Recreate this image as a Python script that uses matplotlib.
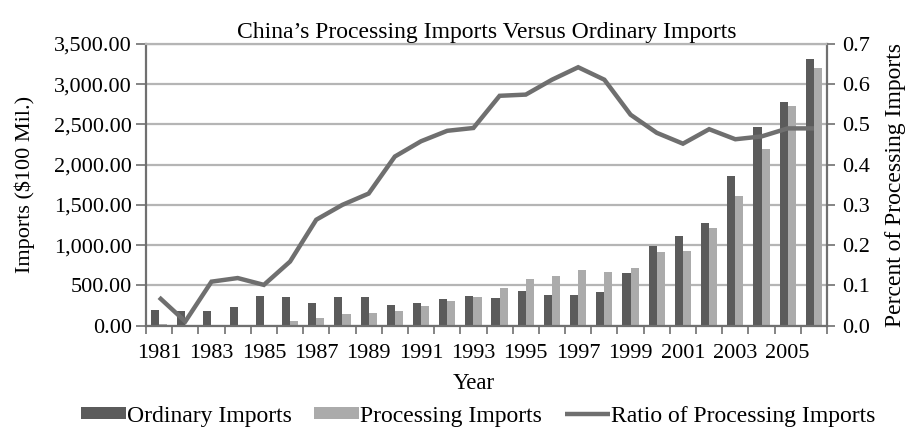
import numpy as np
import matplotlib
matplotlib.use("Agg")
import matplotlib.pyplot as plt
from matplotlib.ticker import FuncFormatter, MultipleLocator

# Data
years = list(range(1981, 2007))
ordinary = [195, 183, 185, 229, 370, 350, 280, 350, 350, 257,
            286, 328, 370, 348, 423, 382, 382, 420, 656, 990,
            1117, 1276, 1862, 2469, 2777, 3317]
processing = [15, 10, 8, 10, 5, 50, 90, 140, 160, 182,
              245, 307, 353, 465, 577, 610, 685, 670, 720, 910,
              923, 1206, 1608, 2195, 2731, 3201]
ratio = [0.070, 0.010, 0.109, 0.118, 0.101, 0.159, 0.263, 0.300, 0.328, 0.420,
         0.458, 0.484, 0.491, 0.571, 0.574, 0.611, 0.642, 0.611, 0.524, 0.479,
         0.452, 0.488, 0.463, 0.470, 0.490, 0.490]

plt.rcParams["font.family"] = ["Liberation Serif", "DejaVu Serif"]
plt.rcParams["font.size"] = 16

dark = "#5b5b5b"
light = "#ababab"
line_c = "#6f6f6f"
axis_c = "#707070"
grid_c = "#b5b5b5"

fig = plt.figure(figsize=(9.08, 4.4), dpi=100)
ax = fig.add_axes([0.1608, 0.2602, 0.75, 0.64])

x = np.arange(len(years))
w = 0.31
ax.bar(x - w / 2, ordinary, w, color=dark, label="Ordinary Imports", zorder=2)
ax.bar(x + w / 2, processing, w, color=light, label="Processing Imports", zorder=2)

ax.set_ylim(0, 3500)
ax.set_xlim(-0.5, len(years) - 0.5)
ax.yaxis.set_major_locator(MultipleLocator(500))
ax.yaxis.set_major_formatter(FuncFormatter(lambda v, p: f"{v:,.2f}"))
ax.grid(axis="y", color=grid_c, linewidth=1.6, zorder=0)
ax.set_axisbelow(True)

# tick marks on category boundaries, labels at centres of every other year
ax.set_xticks(np.arange(-0.5, len(years), 1.0))
ax.set_xticklabels([])
ax.set_xticks(x[::2], minor=True)
ax.set_xticklabels([str(y) for y in years[::2]], minor=True)
ax.tick_params(axis="x", which="minor", length=0, pad=13)
ax.tick_params(axis="x", which="major", length=6, width=1.2, color=axis_c)
ax.tick_params(axis="y", length=7, width=1.2, color=axis_c, pad=3)

for s in ["left", "bottom", "right"]:
    ax.spines[s].set_color(axis_c)
    ax.spines[s].set_linewidth(1.6)
ax.spines["top"].set_color(grid_c)
ax.spines["top"].set_linewidth(1.6)

ax.set_xlabel("Year", fontsize=16.5, labelpad=9)
ax.xaxis.set_label_coords(0.482, -0.17)
ax.set_ylabel("Imports ($100 Mil.)", fontsize=16, labelpad=14)
ax.set_title("China\u2019s Processing Imports Versus Ordinary Imports",
             fontsize=17, pad=4)

ax2 = ax.twinx()
ax2.plot(x, ratio, color=line_c, linewidth=3.2, label="Ratio of Processing Imports",
         solid_capstyle="butt", solid_joinstyle="miter")
ax2.set_ylim(0, 0.7)
ax2.yaxis.set_major_locator(MultipleLocator(0.1))
ax2.yaxis.set_major_formatter(FuncFormatter(lambda v, p: f"{v:.1f}"))
ax2.tick_params(axis="y", length=6, width=1.2, color=axis_c, pad=5)
for s in ax2.spines.values():
    s.set_visible(False)
ax2.set_ylabel("Percent of Processing Imports", fontsize=17, labelpad=11)

h1, l1 = ax.get_legend_handles_labels()
h2, l2 = ax2.get_legend_handles_labels()
fig.legend(h1 + h2, l1 + l2, loc="center", bbox_to_anchor=(478 / 908, 1 - 416 / 440),
           ncol=3, frameon=False, fontsize=17, handlelength=1.9, handleheight=0.35,
           handletextpad=0.05, columnspacing=0.95, borderpad=0)

fig.savefig("out.png", dpi=100)
